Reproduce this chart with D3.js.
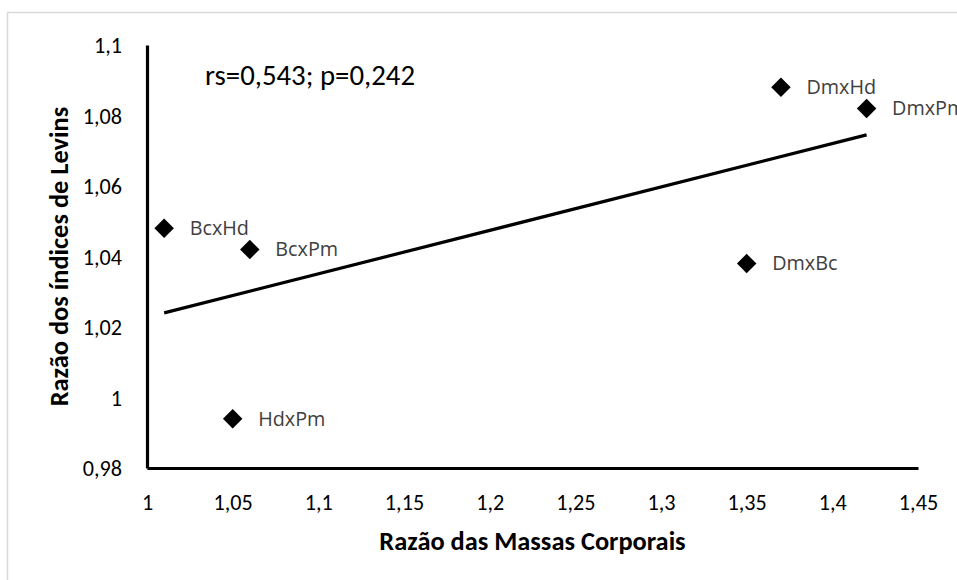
<!DOCTYPE html>
<html>
<head>
<meta charset="utf-8">
<script src="https://cdn.jsdelivr.net/npm/d3@7"></script>
<style>
  html, body { margin: 0; padding: 0; background: #fff; }
  svg { display: block; }
</style>
</head>
<body>
<svg id="chart" width="957" height="580"></svg>
<script>
// ---- data ----
const pointLabels = ["BcxHd", "BcxPm", "HdxPm", "DmxBc", "DmxHd", "DmxPm"];
const massRatio   = [1.01, 1.06, 1.05, 1.35, 1.37, 1.42];
const levinsRatio = [1.048, 1.042, 0.994, 1.038, 1.088, 1.082];
const trendX = [1.01, 1.42];
const trendY = [1.024, 1.0745];
const xTicks = [1, 1.05, 1.1, 1.15, 1.2, 1.25, 1.3, 1.35, 1.4, 1.45];
const yTicks = [0.98, 1, 1.02, 1.04, 1.06, 1.08, 1.1];
const statText = "rs=0,543; p=0,242";
const xTitle = "Razão das Massas Corporais";
const yTitle = "Razão dos índices de Levins";

// ---- drawing ----
const svg = d3.select("#chart");
const tickFont = "Carlito, Calibri, Lato, sans-serif";
const labelFont = "'Open Sans', 'Noto Sans', sans-serif";

svg.append("rect").attr("x", 7.5).attr("y", 12.5).attr("width", 1000).attr("height", 1000)
  .attr("fill", "#fff").attr("stroke", "#d9d9d9").attr("stroke-width", 1.5);

const x = d3.scaleLinear().domain([1, 1.45]).range([147, 918]);
const y = d3.scaleLinear().domain([0.98, 1.1]).range([468, 45]);

const loc = d3.formatLocale({decimal: ",", thousands: ".", grouping: [3], currency: ["", ""]});
const fmt = loc.format("~g");

const xAxis = svg.append("g").attr("transform", `translate(0,${y(0.98)})`)
  .call(d3.axisBottom(x).tickValues(xTicks).tickFormat(fmt).tickSize(0).tickPadding(26));
const yAxis = svg.append("g").attr("transform", `translate(${x(1)},0)`)
  .call(d3.axisLeft(y).tickValues(yTicks).tickFormat(fmt).tickSize(0).tickPadding(25));

[xAxis, yAxis].forEach(g => {
  g.select(".domain").attr("stroke", "#000").attr("stroke-width", 3.2);
  g.selectAll(".tick text").attr("font-family", tickFont).attr("font-size", 22.2).attr("fill", "#000");
});
yAxis.selectAll(".tick text").attr("dy", "0.35em");

// trend line
const line = d3.line().x(d => x(d[0])).y(d => y(d[1]));
svg.append("path").datum(d3.zip(trendX, trendY)).attr("d", line)
  .attr("fill", "none").attr("stroke", "#000").attr("stroke-width", 3.2);

// points
const pts = d3.zip(massRatio, levinsRatio, pointLabels);
svg.selectAll("path.pt").data(pts).join("path").attr("class", "pt")
  .attr("d", d3.symbol(d3.symbolSquare, 190)())
  .attr("transform", d => `translate(${x(d[0])},${y(d[1])}) rotate(45)`)
  .attr("fill", "#000");

svg.selectAll("text.pl").data(pts).join("text").attr("class", "pl")
  .attr("x", d => x(d[0]) + 25.5).attr("y", d => y(d[1])).attr("dy", "0.35em")
  .attr("font-family", labelFont).attr("font-size", 19.8).attr("fill", "#404040")
  .text(d => d[2]);

// stat text
svg.append("text").attr("x", 205).attr("y", 75).attr("dy", "0.35em")
  .attr("font-family", tickFont).attr("font-size", 28.8).attr("fill", "#000").text(statText);

// axis titles
svg.append("text").attr("x", (x(1) + x(1.45)) / 2).attr("y", 541).attr("dy", "0.35em")
  .attr("text-anchor", "middle").attr("font-family", tickFont).attr("font-weight", "bold")
  .attr("font-size", 26.4).attr("fill", "#000").text(xTitle);
svg.append("text").attr("transform", `translate(59,${(y(0.98) + y(1.1)) / 2}) rotate(-90)`)
  .attr("dy", "0.35em").attr("text-anchor", "middle").attr("font-family", tickFont)
  .attr("font-weight", "bold").attr("font-size", 26.4).attr("fill", "#000").text(yTitle);
</script>
</body>
</html>
